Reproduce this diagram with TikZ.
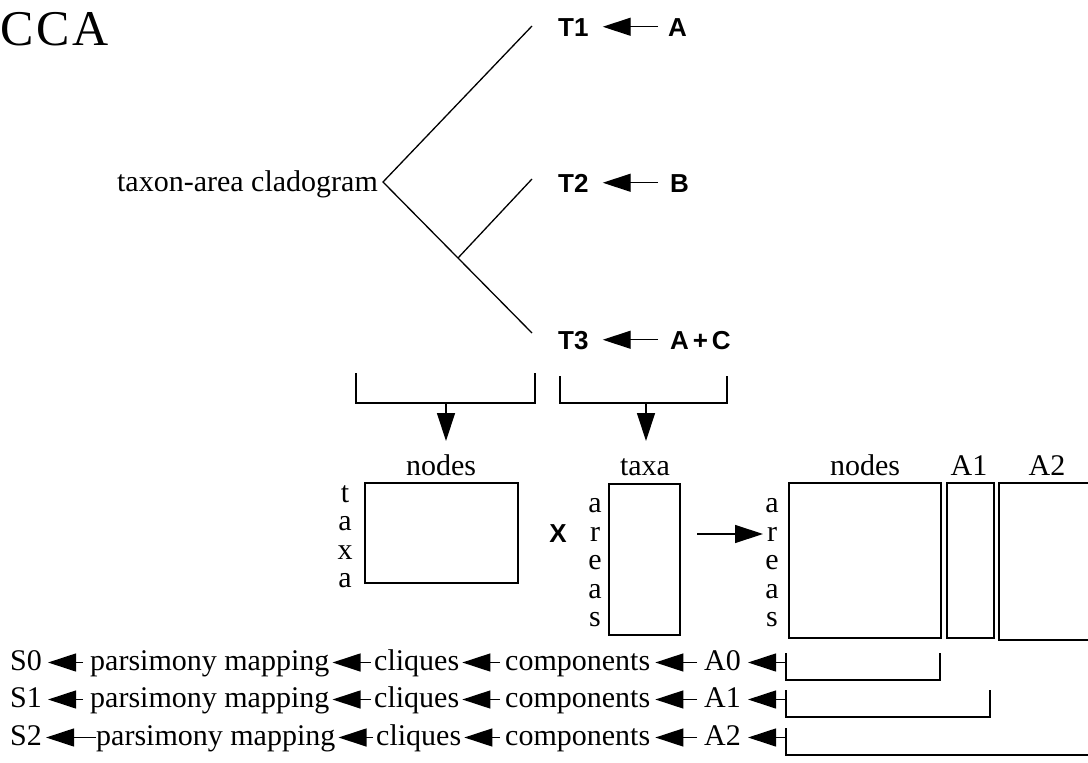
\documentclass[tikz,border=0pt]{standalone}
\usepackage{fontspec}
\setmainfont{Liberation Serif}
\newfontfamily\helv{Liberation Sans}
\usetikzlibrary{arrows.meta}
\begin{document}
\begin{tikzpicture}[x=1pt,y=-1pt,
  ln/.style={line width=1.3pt},
  arr/.style={line width=1.3pt,-{Triangle[length=28pt,width=18pt]}},
  rm/.style={font=\fontsize{30}{28.5}\selectfont, inner sep=0pt},
  rowtext/.style={rm, anchor=base west, text height=21pt, text depth=6pt},
  bs/.style={font=\fontsize{26}{30}\selectfont\helv\bfseries, inner sep=0pt, anchor=base west, text height=18.5pt, text depth=0pt},
  mbox/.style={draw, line width=1.3pt, inner sep=0pt}]
\useasboundingbox (0,0) rectangle (1088,763);

% title
\node[font=\fontsize{50}{60}\selectfont, inner sep=0pt, anchor=base west] (cca) at (0,45) {\addfontfeatures{LetterSpace=6}CCA};

% cladogram
\node[rm, anchor=base east] (tac) at (378,191) {taxon-area cladogram};
\coordinate (root) at (383,182);
\coordinate (jn) at (458,258);
\coordinate (e1) at (532,26);
\coordinate (e2) at (532,179);
\coordinate (e3) at (532,333);
\draw[ln] (e1) -- (root) -- (e3);
\draw[ln] (jn) -- (e2);

% taxa and areas
\node[bs] (T1) at (558,36) {T1};
\node[bs] (aA) at (668,36) {A};
\node[bs] (T2) at (558,192) {T2};
\node[bs] (aB) at (670,192) {B};
\node[bs] (T3) at (558,349) {T3};
\node[bs] (aAC) at (670,349) {A\hspace{0.15em}+\hspace{0.15em}C};
\draw[arr, shorten <=10pt, shorten >=14pt] (aA.west) -- (T1.east);
\draw[arr, shorten <=12pt, shorten >=14pt] (aB.west) -- (T2.east);
\draw[arr, shorten <=12pt, shorten >=14pt] (aAC.west) -- (T3.east);

% brackets with arrows
\draw[ln] (356,373) -- (356,403) -- (535,403) -- (535,373);
\coordinate (bl) at (446,403);
\coordinate (blt) at (446,441);
\draw[arr] (bl) -- (blt);
\draw[ln] (560,376) -- (560,403) -- (727,403) -- (727,376);
\coordinate (br) at (646,403);
\coordinate (brt) at (646,441);
\draw[arr] (br) -- (brt);

% matrix 1
\node[rm, anchor=base] (lnodes1) at (441,475) {nodes};
\node[mbox, minimum width=153pt, minimum height=100pt] (m1) at (441.5,533) {};
\node[rm, anchor=south, align=center] (taxa1) at (345,588) {t\\a\\x\\a};
\node[bs, anchor=center] (times) at (558,533) {X};

% matrix 2
\node[rm, anchor=base] (ltaxa) at (645,475) {taxa};
\node[mbox, minimum width=71pt, minimum height=151pt] (m2) at (644.5,559.5) {};
\node[rm, anchor=south, align=center] (areas1) at (595,627) {a\\r\\e\\a\\s};

\coordinate (as) at (697,534);
\coordinate (ae) at (763,534);
\draw[arr] (as) -- (ae);

% matrix 3
\node[rm, anchor=south, align=center] (areas2) at (772,627) {a\\r\\e\\a\\s};
\node[rm, anchor=base] (lnodes2) at (865,475) {nodes};
\node[mbox, minimum width=152pt, minimum height=155pt] (m3) at (865,560.5) {};
\node[rm, anchor=base] (lA1) at (969,475) {A1};
\node[mbox, minimum width=47pt, minimum height=155pt] (m4) at (970.5,560.5) {};
\node[rm, anchor=base] (lA2) at (1047,475) {A2};
\draw[ln] (1092,483) -- (999,483) -- (999,640) -- (1092,640);

% bottom rows
\foreach \i/\y/\r in {0/670/940, 1/707/990} {
  \node[rowtext] (S\i) at (10,\y) {S\i};
  \node[rowtext] (pm\i) at (90,\y) {parsimony mapping};
  \node[rowtext] (cl\i) at (374,\y) {cliques};
  \node[rowtext] (co\i) at (505,\y) {components};
  \node[rowtext] (Ar\i) at (704,\y) {A\i};
  \coordinate (b\i) at (786,\y-7.5);
  \draw[ln] (786,\y-17) -- (786,\y+10) -- (\r,\y+10) -- (\r,\y-17);
  \draw[arr, shorten >=6pt, shorten <=7pt] (pm\i.west) -- (S\i.east);
  \draw[arr, shorten >=3pt, shorten <=3pt] (cl\i.west) -- (pm\i.east);
  \draw[arr, shorten >=3pt, shorten <=5pt] (co\i.west) -- (cl\i.east);
  \draw[arr, shorten >=5pt, shorten <=7pt] (Ar\i.west) -- (co\i.east);
  \draw[arr, shorten >=7pt] (b\i) -- (Ar\i.east);
}
\node[rowtext] (S2) at (10,745) {S2};
\node[rowtext] (pm2) at (96,745) {parsimony mapping};
\node[rowtext] (cl2) at (376,745) {cliques};
\node[rowtext] (co2) at (505,745) {components};
\node[rowtext] (Ar2) at (704,745) {A2};
\coordinate (b2) at (786,737.5);
\draw[ln] (786,728) -- (786,755) -- (1092,755);
\draw[arr, shorten >=4pt] (pm2.west) -- (S2.east);
\draw[arr, shorten >=3pt, shorten <=3pt] (cl2.west) -- (pm2.east);
\draw[arr, shorten >=3pt, shorten <=5pt] (co2.west) -- (cl2.east);
\draw[arr, shorten >=5pt, shorten <=7pt] (Ar2.west) -- (co2.east);
\draw[arr, shorten >=7pt] (b2) -- (Ar2.east);
\end{tikzpicture}
\end{document}
